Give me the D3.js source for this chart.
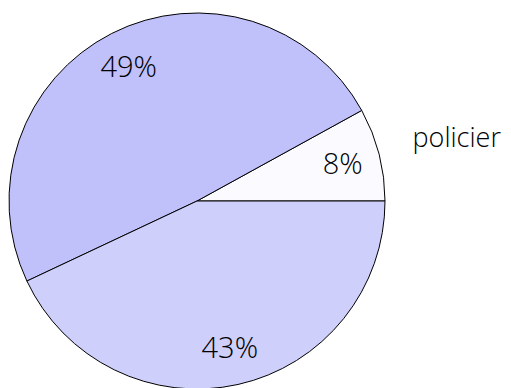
<!DOCTYPE html>
<html>
<head>
<meta charset="utf-8">
<script src="https://cdn.jsdelivr.net/npm/d3@7"></script>
<style>
html, body { margin: 0; padding: 0; background: #fff; }
svg { display: block; }
text { font-family: "Open Sans", "DejaVu Sans", sans-serif; font-weight: 300; fill: #000; }
</style>
</head>
<body>
<svg id="chart" width="511" height="388"></svg>
<script>
const categories = ["policier", "", ""];
const values = [8, 49, 43];
const pctLabels = ["8%", "49%", "43%"];
const colors = ["#fbfbff", "#c0c0fb", "#cfcffc"];

const svg = d3.select("#chart");
const cx = 197, cy = 201, R = 188;
const g = svg.append("g").attr("transform", `translate(${cx},${cy})`);

const pie = d3.pie().sort(null).value(d => d)
  .startAngle(Math.PI / 2).endAngle(Math.PI / 2 - 2 * Math.PI);
const arcs = pie(values);
const arc = d3.arc().innerRadius(0).outerRadius(R);
const labelArc = d3.arc().innerRadius(R * 0.8).outerRadius(R * 0.8);
const outerArc = d3.arc().innerRadius(R * 1.2).outerRadius(R * 1.2);

g.selectAll("path.slice").data(arcs).enter().append("path")
  .attr("class", "slice")
  .attr("d", arc)
  .attr("fill", (d, i) => colors[i])
  .attr("stroke", "#000")
  .attr("stroke-width", 1);

g.selectAll("text.pct").data(arcs).enter().append("text")
  .attr("class", "pct")
  .attr("transform", d => `translate(${labelArc.centroid(d)})`)
  .attr("text-anchor", "middle")
  .attr("dy", "0.36em")
  .attr("font-size", 29)
  .text((d, i) => pctLabels[i]);

g.selectAll("text.cat").data(arcs.filter((d, i) => categories[i])).enter().append("text")
  .attr("class", "cat")
  .attr("transform", d => {
    const c = outerArc.centroid(d);
    return `translate(${c[0] - 3},${c[1] - 8})`;
  })
  .attr("text-anchor", "start")
  .attr("dy", "0.36em")
  .attr("font-size", 27)
  .text(d => categories[d.index]);
</script>
</body>
</html>
